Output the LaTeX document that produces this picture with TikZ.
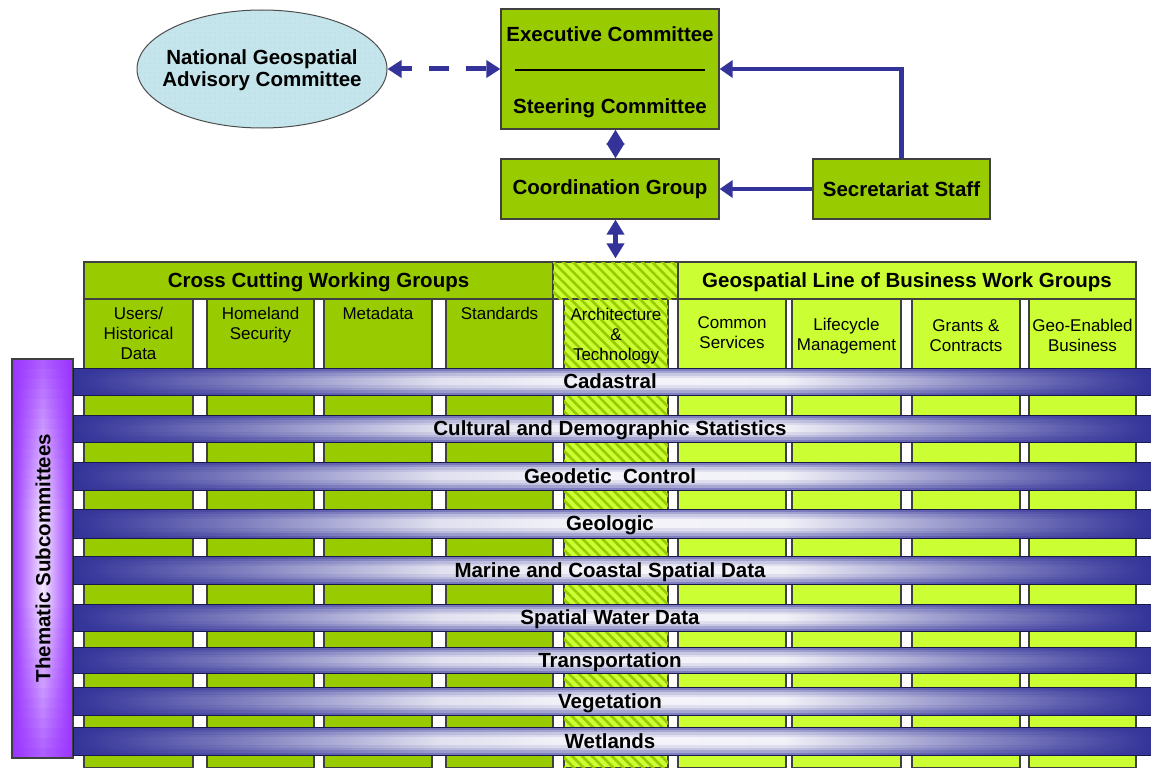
\documentclass[tikz,border=0pt]{standalone}
\usepackage{fontspec}
\setmainfont{Liberation Sans}
\usetikzlibrary{positioning,calc,arrows.meta,shapes.geometric,patterns.meta}

\definecolor{boxgreen}{HTML}{99CC00}
\definecolor{limegreen}{HTML}{CCFF33}
\definecolor{arrowblue}{HTML}{333399}
\definecolor{bandblue}{HTML}{333399}
\definecolor{nacblue}{HTML}{C4E5EC}
\definecolor{subviolet}{HTML}{9933FF}

\pgfdeclarehorizontalshading{bandshade}{100bp}{color(0bp)=(bandblue); color(25bp)=(bandblue); color(33bp)=(bandblue!62!white); color(42bp)=(bandblue!15!white); color(49bp)=(bandblue!5!white); color(58bp)=(bandblue!7!white); color(66bp)=(bandblue!52!white); color(75bp)=(bandblue); color(100bp)=(bandblue)}

\begin{document}
\begin{tikzpicture}[x=1pt, y=-1pt,
    every node/.style={inner sep=0pt, align=center},
    bigfont/.style={font=\fontsize{20.5}{22}\selectfont\bfseries},
    smallfont/.style={font=\fontsize{17}{20}\selectfont},
    greenbox/.style={draw=black!75, line width=1.2pt, fill=boxgreen},
    limebox/.style={draw=black!75, line width=1.2pt, fill=limegreen},
    hatchbox/.style={draw=black!75, line width=1.2pt, fill=limegreen,
      postaction={pattern={Lines[angle=-45,distance=7pt,line width=2.6pt]}, pattern color=boxgreen}},
    linkarrow/.style={draw=arrowblue, line width=4.5pt, -{Triangle[length=13pt,width=17pt]}},
    bothtips/.style={draw=arrowblue, line width=4.5pt, {Triangle[length=15pt,width=17pt]}-{Triangle[length=15pt,width=17pt]}},
    dasharrow/.style={draw=arrowblue, line width=5pt, dash pattern=on 20pt off 17pt, dash phase=9pt,
      {Triangle[length=14pt,width=17pt]}-{Triangle[length=14pt,width=17pt]}}]
    \useasboundingbox (0,0) rectangle (1151,768);

    \node[ellipse, draw=black!70, line width=1pt, fill=nacblue, minimum width=250pt, minimum height=118pt,
      postaction={pattern={Dots[distance=5pt,radius=0.45pt]}, pattern color=black!30}] (nac) at (262,69) {};
    \node[bigfont] (naclabel) at (262,70) {National Geospatial\\Advisory Committee};
    \node[greenbox, minimum width=218pt, minimum height=120pt] (exec) at (610,69) {};
    \node[bigfont, anchor=base] (execlabel) at (610,42) {Executive Committee};
    \node[bigfont, anchor=base] (steerlabel) at (610,113) {Steering Committee};
    \draw[line width=2pt] ([xshift=15pt,yshift=-1pt]exec.west) -- ([xshift=-15pt,yshift=-1pt]exec.east);
    \node[greenbox, bigfont, minimum width=218pt, minimum height=60pt] (coord) at (610,189) {Coordination Group};
    \node[greenbox, bigfont, minimum width=177pt, minimum height=60pt] (secr) at (901.5,189) {Secretariat Staff};

    \foreach \xa/\xb/\kind in {84/193/greenbox, 207/314/greenbox, 324/432/greenbox, 446/553/greenbox,
      564/668/hatchbox, 678/786/limebox, 792/901/limebox, 912/1020/limebox, 1029/1136/limebox}
      \draw[\kind] (\xa,299) rectangle (\xb,768);

    \node[greenbox, minimum width=469pt, minimum height=37pt] (crosshead) at (318.5,280.5) {};
    \node[bigfont, anchor=base] at (318.5,287.5) {Cross Cutting Working Groups};
    \node[hatchbox, minimum width=125pt, minimum height=37pt] (archhead) at (615.5,280.5) {};
    \node[limebox, minimum width=458pt, minimum height=37pt] (geohead) at (907,280.5) {};
    \node[bigfont, anchor=base] at (907,287.5) {Geospatial Line of Business Work Groups};

    \node[smallfont, anchor=north] (users) at (138.5,307) {Users/\\Historical\\Data};
    \node[smallfont, anchor=north] (homeland) at (260.5,307) {Homeland\\Security};
    \node[smallfont, anchor=north] (metadata) at (378,307) {Metadata};
    \node[smallfont, anchor=north] (standards) at (499.5,307) {Standards};
    \node[smallfont] (archtech) at (616,336) {Architecture\\\&\\Technology};
    \node[smallfont] (common) at (732,333) {Common\\Services};
    \node[smallfont] (lifecycle) at (846.5,336) {Lifecycle\\Management};
    \node[smallfont] (grants) at (966,336) {Grants \&\\Contracts};
    \node[smallfont] (geoenabled) at (1082.5,335) {Geo-Enabled\\Business};

    \shade[left color=subviolet, right color=subviolet, middle color=subviolet!12!white] (12,359) rectangle (73,758);
    \foreach \k in {0,...,14}{
      \pgfmathsetmacro\op{0.75*(1-\k/15)}
      \fill[subviolet, opacity=\op] (12,359+10*\k) rectangle (73,369+10*\k);
      \fill[subviolet, opacity=\op] (12,758-10*\k) rectangle (73,748-10*\k);
    }
    \draw[black!75, line width=1.2pt] (12,359) rectangle (73,758);
    \node[bigfont, rotate=90] (thematic) at (43,558) {Thematic Subcommittees};

    \foreach \ya/\yb/\name [count=\i] in {368/395/Cadastral, 415/442/Cultural and Demographic Statistics,
      462/490/Geodetic\ \ Control, 509/538/Geologic, 556/584/Marine and Coastal Spatial Data,
      604/631/Spatial Water Data, 647/673/Transportation, 687/715/Vegetation, 727/755/Wetlands}{
      \shade[shading=bandshade] (73,\ya) rectangle (1151,\yb);
      \foreach \d/\op in {0/0.6, 2.5/0.4, 5/0.22, 7.5/0.1}{
        \fill[bandblue, opacity=\op] (73,\ya+\d) rectangle (1151,\ya+\d+2.5);
        \fill[bandblue, opacity=\op] (73,\yb-\d) rectangle (1151,\yb-\d-2.5);
      }
      \draw[bandblue!50!black, line width=1pt] (73,\ya) rectangle (1151,\yb);
      \node[bigfont, anchor=base] (band\i) at (610,{(\ya+\yb)/2+7}) {\name};
    }

    \draw[dasharrow] (nac.east) -- (exec.west);
    \draw[linkarrow] (secr.north) |- (exec.east);
    \draw[linkarrow] (secr.west) -- (coord.east);
    \draw[bothtips] (archhead.north |- exec.south) -- (archhead.north |- coord.north);
    \draw[bothtips, shorten >=3pt] (archhead.north |- coord.south) -- (archhead.north);
\end{tikzpicture}
\end{document}
